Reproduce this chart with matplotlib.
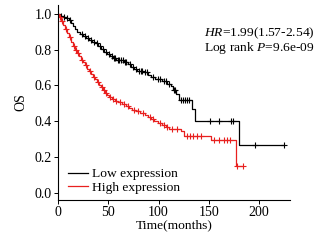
import numpy as np
import matplotlib.pyplot as plt

plt.rcParams['font.family'] = ['Liberation Serif', 'DejaVu Serif']
plt.rcParams['font.size'] = 9.7
plt.rcParams['mathtext.fontset'] = 'custom'
plt.rcParams['mathtext.rm'] = 'Liberation Serif'
plt.rcParams['mathtext.it'] = 'Liberation Serif:italic'

# Kaplan-Meier steps (time in months, survival after step)
low_t = [0, 2, 5, 8, 11, 13, 15, 17, 19, 22, 25, 28, 31, 34, 37, 40, 43, 46, 49,
         52, 55, 58, 62, 66, 70, 73, 76, 79, 85, 90, 93, 97, 103, 108, 112, 114,
         117, 120, 133, 136, 180, 225]
low_s = [1.0, 0.99, 0.985, 0.975, 0.965, 0.95, 0.93, 0.915, 0.90, 0.89, 0.875,
         0.865, 0.855, 0.845, 0.835, 0.82, 0.805, 0.79, 0.775, 0.765, 0.755, 0.745,
         0.74, 0.73, 0.72, 0.705, 0.69, 0.68, 0.675, 0.66, 0.645, 0.635, 0.625,
         0.61, 0.595, 0.575, 0.555, 0.52, 0.47, 0.40, 0.268, 0.268]
low_cens = [3, 6, 9, 12, 24, 27, 30, 33, 36, 39, 42, 45, 48, 51, 54, 56, 57, 60,
            61, 63, 65, 67, 68, 72, 75, 78, 81, 83, 84, 87, 89, 95, 99, 101, 105,
            107, 110, 115, 116, 122, 124, 126, 128, 130, 151, 160, 172, 174, 196, 225]

high_t = [0, 1, 3, 5, 7, 9, 11, 13, 15, 17, 19, 21, 23, 25, 27, 29, 31, 33, 35,
          37, 39, 41, 43, 45, 47, 49, 51, 54, 57, 60, 64, 68, 71, 74, 78, 82, 87,
          90, 93, 96, 99, 103, 107, 110, 122, 125, 152, 177, 184]
high_s = [1.0, 0.985, 0.96, 0.94, 0.915, 0.895, 0.87, 0.845, 0.82, 0.80, 0.78,
          0.765, 0.745, 0.73, 0.715, 0.695, 0.68, 0.665, 0.65, 0.635, 0.62, 0.605,
          0.59, 0.575, 0.56, 0.545, 0.535, 0.525, 0.515, 0.505, 0.495, 0.485,
          0.475, 0.465, 0.455, 0.445, 0.435, 0.425, 0.41, 0.40, 0.39, 0.378, 0.368,
          0.358, 0.345, 0.318, 0.296, 0.148, 0.148]
high_cens = [2, 4, 8, 12, 16, 18, 20, 24, 28, 32, 36, 40, 44, 46, 48, 52, 55, 58,
             62, 66, 70, 76, 80, 85, 92, 95, 101, 105, 108, 113, 118, 128, 131,
             134, 138, 142, 155, 160, 165, 168, 171, 178, 184]

hr_text = r'$\it{HR}$=1.99(1.57-2.54)'
p_text = r'Log rank $\it{P}$=9.6e-09'

fig = plt.figure(figsize=(3.26, 2.4), dpi=100)
ax = fig.add_axes([0.178, 0.167, 0.712, 0.812])

def km(ax, t, s, cens, color, label):
    ax.step(t, s, where='post', color=color, lw=0.9, label=label)
    idx = np.searchsorted(t, cens, side='right') - 1
    ax.plot(cens, np.array(s)[idx], '+', color=color, ms=4, mew=0.8)

km(ax, low_t, low_s, low_cens, 'black', 'Low expression')
km(ax, high_t, high_s, high_cens, '#e8201f', 'High expression')

ax.set_xlim(0, 231)
ax.set_ylim(-0.04, 1.05)
ax.set_xticks([0, 50, 100, 150, 200])
ax.set_yticks([0.0, 0.2, 0.4, 0.6, 0.8, 1.0])
ax.set_yticklabels(['0.0', '0.2', '0.4', '0.6', '0.8', '1.0'])
ax.spines['top'].set_visible(False)
ax.spines['right'].set_visible(False)
ax.tick_params(direction='out', length=3, width=0.7, pad=1.5, labelsize=10)
ax.set_xlabel('Time(months)', labelpad=0)
ax.set_ylabel('OS', labelpad=5, fontsize=10)
ax.legend(loc='lower left', frameon=False, handlelength=1.5, handletextpad=0.3,
          labelspacing=0.05, borderaxespad=0.0, bbox_to_anchor=(0.02, 0.005))
fig.text(0.966, 0.862, hr_text, ha='right', va='center')
fig.text(0.966, 0.800, p_text, ha='right', va='center')

plt.savefig('out.png', dpi=100)
